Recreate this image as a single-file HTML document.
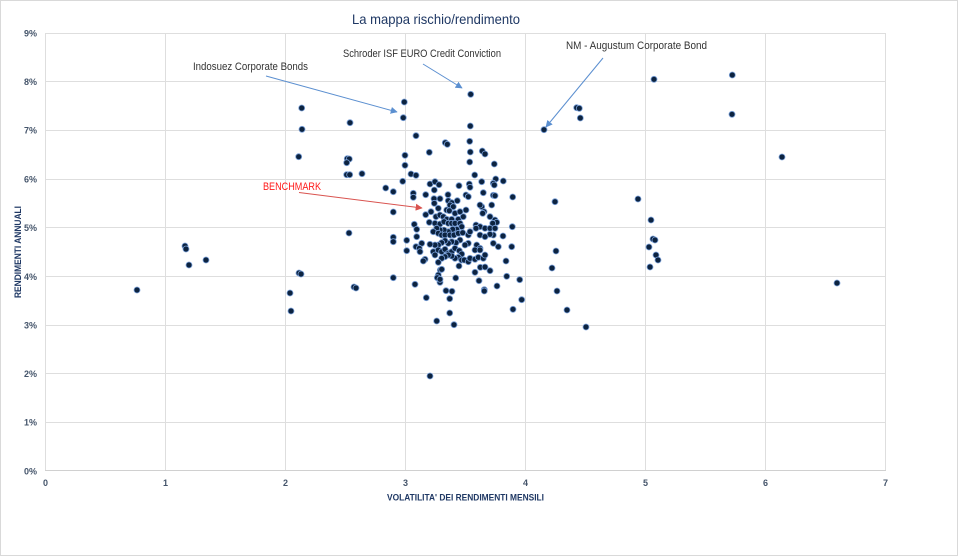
<!DOCTYPE html>
<html><head><meta charset="utf-8"><style>
html,body{margin:0;padding:0;background:#fff;}
svg{display:block}
text{font-family:"Liberation Sans",sans-serif;}
</style></head><body>
<svg id="c" width="959" height="557" viewBox="0 0 959 557" xmlns="http://www.w3.org/2000/svg">
<defs>
<marker id="ab" viewBox="0 0 10 10" refX="9" refY="5" markerWidth="7" markerHeight="7" orient="auto" markerUnits="userSpaceOnUse">
<path d="M0,0 L10,5 L0,10 z" fill="#5b8fd0"/></marker>
<marker id="ar" viewBox="0 0 10 10" refX="9" refY="5" markerWidth="7" markerHeight="7" orient="auto" markerUnits="userSpaceOnUse">
<path d="M0,0 L10,5 L0,10 z" fill="#d9534f"/></marker>
</defs>
<rect x="0.5" y="0.5" width="957" height="555" fill="#fff" stroke="#d9d9d9"/>
<g stroke="#dedede" stroke-width="1">
<line x1="45" y1="33.5" x2="885.5" y2="33.5"/>
<line x1="45" y1="81.5" x2="885.5" y2="81.5"/>
<line x1="45" y1="130.5" x2="885.5" y2="130.5"/>
<line x1="45" y1="179.5" x2="885.5" y2="179.5"/>
<line x1="45" y1="227.5" x2="885.5" y2="227.5"/>
<line x1="45" y1="276.5" x2="885.5" y2="276.5"/>
<line x1="45" y1="325.5" x2="885.5" y2="325.5"/>
<line x1="45" y1="373.5" x2="885.5" y2="373.5"/>
<line x1="45" y1="422.5" x2="885.5" y2="422.5"/>
<line x1="45.5" y1="33" x2="45.5" y2="471"/>
<line x1="165.5" y1="33" x2="165.5" y2="471"/>
<line x1="285.5" y1="33" x2="285.5" y2="471"/>
<line x1="405.5" y1="33" x2="405.5" y2="471"/>
<line x1="525.5" y1="33" x2="525.5" y2="471"/>
<line x1="645.5" y1="33" x2="645.5" y2="471"/>
<line x1="765.5" y1="33" x2="765.5" y2="471"/>
<line x1="885.5" y1="33" x2="885.5" y2="471"/>
</g>
<line x1="45" y1="470.5" x2="886" y2="470.5" stroke="#d0d0d0" stroke-width="1"/>
<g font-size="9" font-weight="bold" fill="#44546a" text-anchor="end">
<text x="37" y="36.5">9%</text>
<text x="37" y="85">8%</text>
<text x="37" y="133.5">7%</text>
<text x="37" y="182.5">6%</text>
<text x="37" y="231">5%</text>
<text x="37" y="280">4%</text>
<text x="37" y="328.5">3%</text>
<text x="37" y="377">2%</text>
<text x="37" y="425.5">1%</text>
<text x="37" y="474.5">0%</text>
</g>
<g font-size="9" font-weight="bold" fill="#44546a" text-anchor="middle">
<text x="45.5" y="486">0</text>
<text x="165.5" y="486">1</text>
<text x="285.5" y="486">2</text>
<text x="405.5" y="486">3</text>
<text x="525.5" y="486">4</text>
<text x="645.5" y="486">5</text>
<text x="765.5" y="486">6</text>
<text x="885.5" y="486">7</text>
</g>
<text x="387" y="500.5" font-size="9.5" font-weight="bold" fill="#1f3864" textLength="157" lengthAdjust="spacingAndGlyphs">VOLATILITA' DEI RENDIMENTI MENSILI</text>
<text transform="translate(21,298) rotate(-90)" x="0" y="0" font-size="9.5" font-weight="bold" fill="#1f3864" textLength="92" lengthAdjust="spacingAndGlyphs">RENDIMENTI ANNUALI</text>
<text x="352" y="24" font-size="14" fill="#1f3864" textLength="168" lengthAdjust="spacingAndGlyphs">La mappa rischio/rendimento</text>

<g id="pts"></g>

<line x1="266" y1="76" x2="397" y2="112" stroke="#5b8fd0" stroke-width="1" marker-end="url(#ab)"/>
<line x1="423" y1="64" x2="462" y2="88" stroke="#5b8fd0" stroke-width="1" marker-end="url(#ab)"/>
<line x1="603" y1="58" x2="546" y2="127" stroke="#5b8fd0" stroke-width="1" marker-end="url(#ab)"/>
<line x1="299" y1="192.5" x2="422" y2="208" stroke="#d9534f" stroke-width="1" marker-end="url(#ar)"/>
<g font-size="11" fill="#333">
<text x="193" y="70" textLength="115" lengthAdjust="spacingAndGlyphs">Indosuez Corporate Bonds</text>
<text x="343" y="57" textLength="158" lengthAdjust="spacingAndGlyphs">Schroder ISF EURO Credit Conviction</text>
<text x="566" y="49" textLength="141" lengthAdjust="spacingAndGlyphs">NM - Augustum Corporate Bond</text>
</g>
<text x="263" y="190" font-size="11" fill="#ff1a1a" textLength="58" lengthAdjust="spacingAndGlyphs">BENCHMARK</text>
</svg>
<script>
var P=[[137,290],[185,246],[186,249],[189,265],[206,260],[290,293],[291,311],[298.7,156.7],[299,273],[301,274],[301.7,108],[302,129.3],
[350,122.7],[347.3,158.7],[349.3,159],[346.7,162.7],[346.7,174.7],[349.7,174.7],[362,173.7],[349,233],[354,287],[356,288],
[404.3,102],[403.3,117.7],[416,135.7],[445.3,142.7],[447.3,144.3],[429.3,152.3],[405,155.3],[405,165.3],[411,174],[416,175.3],
[470.7,94.3],[470.3,126],[544,129.7],[469.7,141.3],[470.3,152],[482.3,151],[485,154],[469.7,162],[494.3,164],[474.7,175],[495.7,179],
[555,201.7],[556,251],[552,268],[557,291],[567,310],[586,327],
[576.7,107.7],[579.3,108.3],[580.3,118],[654,79.3],[732.3,75],[732,114.3],
[638,199],[651,220],[649,247],[653,239],[655,240],[656,255],[658,260],[650,267],
[782,157],[837,283],[430,376],[438.3,278.3],[440,282.3]];
var Z=[[17,24],[40,35],[68,4],[100,40],[100,52],[137,44],[150,12],[165,5],[177,14],[163,30],[162,56],[180,56],[204,44],[237,17],[268,12],[270,22],[258,45],[265,50],[305,5],[310,38],[340,10],[343,15],[340,46],[345,47],[370,3],[398,51],
[205,62],[215,68],[210,75],[220,80],[232,62],[200,90],[208,92],[225,100],[240,95],[258,90],[175,85],[163,70],[137,104],[153,95],[168,110],[180,105],[190,110],[200,118],[215,118],[235,118],[250,110],[305,80],[312,95],[300,75],[335,75],[308,100],[330,110],[345,120],[350,127],[338,130],[40,96],[148,127],[165,130],
[103,133],[110,148],[110,170],[180,132],[192,125],[205,130],[215,130],[225,130],[240,130],[245,140],[230,148],[218,148],[205,155],[192,150],[180,150],[170,145],[160,155],[175,160],[185,165],[195,165],[210,165],[222,165],[235,160],[248,158],[265,165],[270,155],[288,135],[300,140],[288,145],[315,145],[330,145],[345,145],[340,165],[330,163],[300,165],[315,170],[397,140],[369,168],[355,200],[340,190],[290,195],[300,205],[265,190],[255,195],[240,180],[228,188],[215,185],[205,190],[195,182],[185,188],[175,195],[165,195],[150,193],[125,190],[108,200],[118,205],[80,181],[40,172],[40,185],
[120,215],[80,212],[160,215],[175,210],[185,215],[195,208],[205,220],[215,215],[225,205],[238,212],[245,222],[235,232],[225,235],[215,228],[205,225],[195,230],[185,235],[165,225],[245,240],[253,240],[265,245],[270,235],[285,238],[295,232],[310,235],[315,225],[285,210],[300,210],[395,200],[378,243],[135,238],[130,243],[175,247],[237,258],[301,262],[315,261],
[181,270],[185,268],[175,285],[172,293],[180,298],[285,277],[330,272],[227,294],[297,302],[380,289],[419,299],[105,313],[40,293],[313,329],[313,333],[351,318],[198,332],[216,334],[209,356],[139,353],[425,359],[399,388],[209,399],[170,423],[222,434]];
Z.forEach(function(p){P.push([380+p[0]/3,180+p[1]/3]);});
var g=document.getElementById('pts'),s='';
P.forEach(function(p){s+='<circle cx="'+p[0].toFixed(1)+'" cy="'+p[1].toFixed(1)+'" r="3" fill="#0c2340" stroke="#7aa0d8" stroke-width="0.8"/>';});
g.innerHTML=s;
</script>
</body></html>
